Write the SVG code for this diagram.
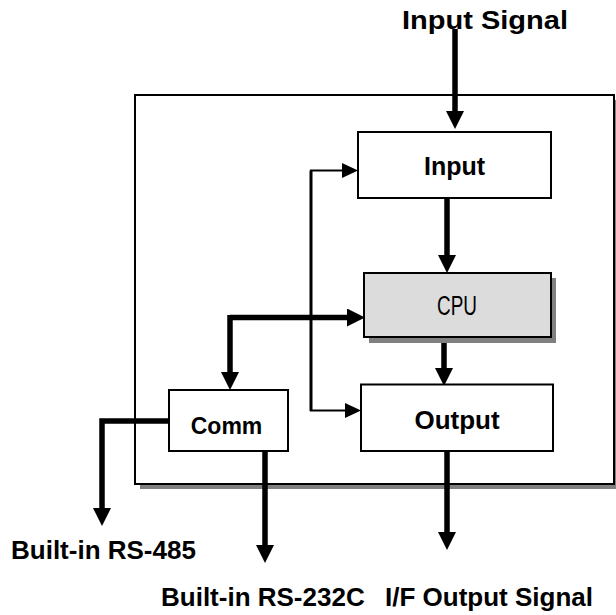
<svg xmlns="http://www.w3.org/2000/svg" width="616" height="615" viewBox="0 0 616 615">
<style>
.box{fill:#fff;stroke:#000;stroke-width:2}
.shadow{fill:#808080}
.thick{fill:none;stroke:#000;stroke-width:5.5}
.bus{fill:none;stroke:#000;stroke-width:3}
.thin{fill:none;stroke:#000;stroke-width:2}
.lbl{font-family:"Liberation Sans",Arial,sans-serif;font-weight:bold;fill:#000}
.cpu{font-family:"Liberation Sans Narrow","Liberation Sans",Arial,sans-serif;fill:#000}
</style>
<defs>
<marker id="ah" markerUnits="userSpaceOnUse" viewBox="0 0 18 18" markerWidth="18" markerHeight="18" refX="0" refY="9" orient="auto">
<path d="M0,0 L18,9 L0,18 z" fill="#000"/>
</marker>
<marker id="ahs" markerUnits="userSpaceOnUse" viewBox="0 0 16 15" markerWidth="16" markerHeight="15" refX="0" refY="7.5" orient="auto">
<path d="M0,0 L16,7.5 L0,15 z" fill="#000"/>
</marker>
</defs>
<g id="module">
<rect class="shadow" x="140" y="100" width="479" height="389"/>
<rect class="box" x="135" y="95" width="479" height="389"/>
</g>
<g id="connectors">
<path class="thick" d="M455,29 V111" marker-end="url(#ah)"/>
<path class="thick" d="M447,198 V255" marker-end="url(#ah)"/>
<path class="thick" d="M444,337 V368" marker-end="url(#ah)"/>
<path class="thick" d="M230,317.5 H347" marker-end="url(#ah)"/>
<path class="thick" d="M230,315 V372" marker-end="url(#ah)"/>
<path class="bus" d="M311,170.5 V411"/>
<path class="thin" d="M310,170.5 H342" marker-end="url(#ahs)"/>
<path class="thin" d="M310,410.5 H345" marker-end="url(#ahs)"/>
<path class="thick" d="M169,421 H102 V508" marker-end="url(#ah)"/>
<path class="thick" d="M265,451 V545" marker-end="url(#ah)"/>
<path class="thick" d="M447,451 V532" marker-end="url(#ah)"/>
</g>
<g id="input">
<rect class="box" x="358" y="132" width="193" height="66"/>
<text class="lbl" x="454.5" y="175" font-size="25" text-anchor="middle">Input</text>
</g>
<g id="cpu">
<rect class="shadow" x="369" y="278" width="187" height="65"/>
<rect x="364" y="273" width="187" height="64" fill="#dcdcdc" stroke="#000" stroke-width="2"/>
<text class="cpu" x="457" y="315" font-size="27" text-anchor="middle" textLength="40" lengthAdjust="spacingAndGlyphs">CPU</text>
</g>
<g id="output">
<rect class="box" x="361" y="384.5" width="192" height="66.5"/>
<text class="lbl" x="457" y="428.5" font-size="26" text-anchor="middle">Output</text>
</g>
<g id="comm">
<rect class="box" x="169" y="390" width="119" height="61"/>
<text class="lbl" x="226.5" y="433.5" font-size="23" text-anchor="middle">Comm</text>
</g>
<g id="labels">
<text class="lbl" x="402" y="29" font-size="25" textLength="166" lengthAdjust="spacingAndGlyphs">Input Signal</text>
<text class="lbl" x="11" y="559" font-size="26">Built-in RS-485</text>
<text class="lbl" x="161" y="606" font-size="26">Built-in RS-232C</text>
<text class="lbl" x="385" y="606" font-size="26">I/F Output Signal</text>
</g>
</svg>
